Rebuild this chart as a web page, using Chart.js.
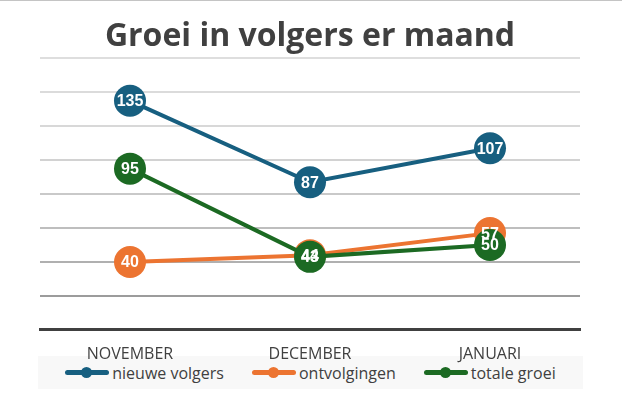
<!DOCTYPE html>
<html>
<head>
<meta charset="utf-8">
<script src="https://cdn.jsdelivr.net/npm/chart.js@4/dist/chart.umd.min.js"></script>
<style>
  body { margin: 0; background: #fff; }
  #wrap { position: relative; width: 622px; height: 398px; border-top: 1px solid #c4c4c4; }
  #lienzo { position: absolute; left: 0; top: 0; z-index: 1; }
  #legenda {
    position: absolute; left: 38px; top: 355px; width: 545px; height: 33px; z-index: 0;
    background: #f8f8f8; display: flex; justify-content: center; align-items: center; gap: 28px;
    font-family: 'Open Sans', sans-serif; font-size: 16px; color: #404040;
  }
  .item { display: flex; align-items: center; gap: 3px; }
  .lijn { position: relative; width: 44px; height: 5px; border-radius: 3px; }
  .lijn::after {
    content: ""; position: absolute; left: 16px; top: -3px; width: 11px; height: 11px;
    border-radius: 50%; background: inherit;
  }
</style>
</head>
<body>
<div id="wrap">
  <div id="legenda"></div>
  <canvas id="lienzo" width="622" height="398"></canvas>
</div>
<script>
const maanden = ["NOVEMBER", "DECEMBER", "JANUARI"]
const nieuweVolgers = [135, 87, 107]
const ontvolgingen = [40, 44, 57]
const totaleGroei = [95, 43, 50]
const reeksNamen = ["nieuwe volgers", "ontvolgingen", "totale groei"]
const kleuren = ["#175f80", "#ec7431", "#1c6a23"]
// gridlijnen worden naar onder toe donkerder
const gridKleuren = ["rgba(0,0,0,0)", "#9c9c9c", "#b0b0b0", "#bebebe", "#c9c9c9", "#d2d2d2", "#d8d8d8", "#dbdbdb", "#dedede"]

const waardenPlugin = {
    id: "waarden",
    afterDatasetsDraw(chart) {
        const ctx = chart.ctx
        ctx.save()
        ctx.fillStyle = "#ffffff"
        ctx.font = "bold 16px 'Liberation Sans', Arial, sans-serif"
        ctx.textAlign = "center"
        ctx.textBaseline = "middle"
        chart.data.datasets.forEach((ds, i) => {
            chart.getDatasetMeta(i).data.forEach((pt, j) => {
                ctx.fillText(ds.data[j], pt.x, pt.y + 1)
            })
        })
        ctx.restore()
    }
}

function reeks(naam, data, kleur, volgorde) {
    return {
        label: naam,
        data: data,
        borderColor: kleur,
        backgroundColor: kleur,
        borderWidth: 4,
        pointRadius: 16,
        pointHoverRadius: 16,
        pointBorderWidth: 0,
        pointBackgroundColor: kleur,
        tension: 0,
        order: volgorde
    }
}

// legenda als html onder de grafiek
const legenda = document.getElementById("legenda")
reeksNamen.forEach((naam, i) => {
    const item = document.createElement("div")
    item.className = "item"
    const lijn = document.createElement("div")
    lijn.className = "lijn"
    lijn.style.background = kleuren[i]
    const tekst = document.createElement("span")
    tekst.textContent = naam
    item.appendChild(lijn)
    item.appendChild(tekst)
    legenda.appendChild(item)
})

new Chart(document.getElementById("lienzo"), {
    type: "line",
    data: {
        labels: maanden,
        datasets: [
            reeks(reeksNamen[0], nieuweVolgers, kleuren[0], 2),
            reeks(reeksNamen[1], ontvolgingen, kleuren[1], 1),
            reeks(reeksNamen[2], totaleGroei, kleuren[2], 0)
        ]
    },
    options: {
        responsive: false,
        animation: false,
        layout: { padding: { top: 17, left: 40, right: 42, bottom: 28 } },
        scales: {
            x: {
                offset: true,
                grid: { display: false },
                border: { display: true, color: "#404040", width: 3 },
                ticks: {
                    color: "#404040",
                    font: { family: "'Open Sans', sans-serif", size: 16 },
                    padding: 7
                }
            },
            y: {
                min: 0,
                max: 160,
                ticks: { display: false, stepSize: 20 },
                border: { display: false },
                grid: {
                    lineWidth: 2,
                    drawTicks: false,
                    color: (c) => gridKleuren[c.index] || "#dedede"
                }
            }
        },
        plugins: {
            title: {
                display: true,
                text: "Groei in volgers er maand",
                color: "#404040",
                font: { family: "'Open Sans', sans-serif", size: 32, weight: "bold" },
                padding: { top: 0, bottom: 2 }
            },
            legend: { display: false },
            tooltip: { enabled: false }
        }
    },
    plugins: [waardenPlugin]
})
</script>
</body>
</html>
